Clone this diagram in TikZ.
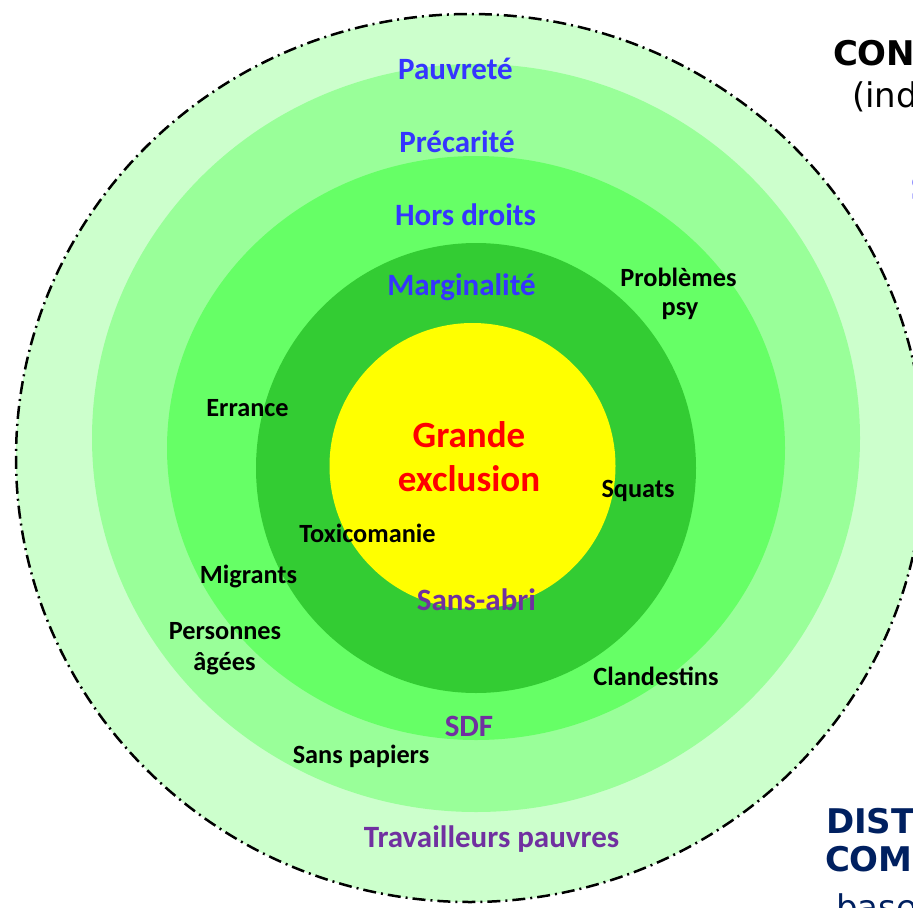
\documentclass[tikz,border=0pt]{standalone}
\usepackage{fontspec}
\setmainfont{Carlito}
\newfontfamily\titrefont{DejaVu Sans}
\usepackage{tikz}
\definecolor{vert1}{HTML}{CCFFCC}
\definecolor{vert2}{HTML}{99FF99}
\definecolor{vert3}{HTML}{66FF66}
\definecolor{vert4}{HTML}{33CC33}
\definecolor{jaune}{HTML}{FFFF00}
\definecolor{bleu}{HTML}{3535FF}
\definecolor{violet}{HTML}{7030A0}
\definecolor{marine}{HTML}{002060}
\tikzset{
  etiq/.style = {inner sep=0pt, outer sep=0pt, anchor=base},
  etiq_b/.style = {etiq, text=bleu,
    font=\fontsize{31bp}{38bp}\selectfont\bfseries},% couche, bleu
  etiq_v/.style = {etiq, text=violet,
    font=\fontsize{31bp}{38bp}\selectfont\bfseries},% public, violet
  etiq_r/.style = {etiq, text=red,
    font=\fontsize{37bp}{44bp}\selectfont\bfseries},% centre, rouge
  etiq_n/.style = {etiq, text=black,
    font=\fontsize{26.3bp}{31bp}\selectfont\bfseries},% situation, noir
  titre/.style = {etiq, anchor=base west,
    font=\fontsize{34bp}{40bp}\selectfont\titrefont\bfseries},% texte coupe a droite
  titre_fin/.style = {etiq, anchor=base west,
    font=\fontsize{34bp}{40bp}\selectfont\titrefont},
  bord/.style = {line width=2.5bp, dash pattern=on 13bp off 5bp on 2bp off 5bp}
}

\begin{document}
\begin{tikzpicture}[x=1bp, y=-1bp]
  \useasboundingbox (0,0) rectangle (913,908);
  \clip (0,0) rectangle (913,908);
  % couches
  \filldraw [fill=vert1, bord] (470,458) ellipse [x radius=454, y radius=444];
  \fill [vert2] (476,438) ellipse [x radius=384, y radius=374];
  \fill [vert3] (476,448) ellipse [x radius=309, y radius=292];
  \fill [vert4] (476,468) ellipse [x radius=220, y radius=225];
  \fill [jaune] (472.5,466) ellipse [x radius=143, y radius=143];
  % noms des couches
  \node [etiq_b] (pauvrete) at (455.5,79.5) {Pauvreté};
  \node [etiq_b] (precarite) at (457,152) {Précarité};
  \node [etiq_b] (horsdroits) at (465.5,225) {Hors droits};
  \node [etiq_b] (marginalite) at (461.5,295) {Marginalité};
  \node [etiq_r] (grande) at (469,447) {Grande};
  \node [etiq_r] (exclusion) at (469,491) {exclusion};
  \node [etiq_v] (sansabri) at (476.5,610) {Sans-abri};
  \node [etiq_v] (sdf) at (469,736) {SDF};
  \node [etiq_v] (travailleurs) at (491.5,847) {Travailleurs pauvres};
  % situations
  \node [etiq_n] (problemes) at (678.5,286) {Problèmes};
  \node [etiq_n] (psy) at (680,315) {psy};
  \node [etiq_n] (errance) at (247.5,416.5) {Errance};
  \node [etiq_n] (squats) at (638,497) {Squats};
  \node [etiq_n] (toxicomanie) at (367.5,542.5) {Toxicomanie};
  \node [etiq_n] (migrants) at (248.5,583) {Migrants};
  \node [etiq_n] (personnes) at (225,639) {Personnes};
  \node [etiq_n] (agees) at (224.5,670) {âgées};
  \node [etiq_n] (clandestins) at (656,685) {Clandestins};
  \node [etiq_n] (sanspapiers) at (361,763) {Sans papiers};
  % textes coupes au bord droit
  \node [titre] (con) at (833,65) {CON};
  \node [titre_fin] (ind) at (852,107) {(ind};
  \node [titre, text=bleu] (bleus) at (910,200) {S};
  \node [titre, text=marine] (dist) at (826,833) {DIST};
  \node [titre, text=marine] (com) at (825,871) {COM};
  \node [titre_fin, text=marine] (basc) at (836,919) {base};
\end{tikzpicture}
\end{document}
